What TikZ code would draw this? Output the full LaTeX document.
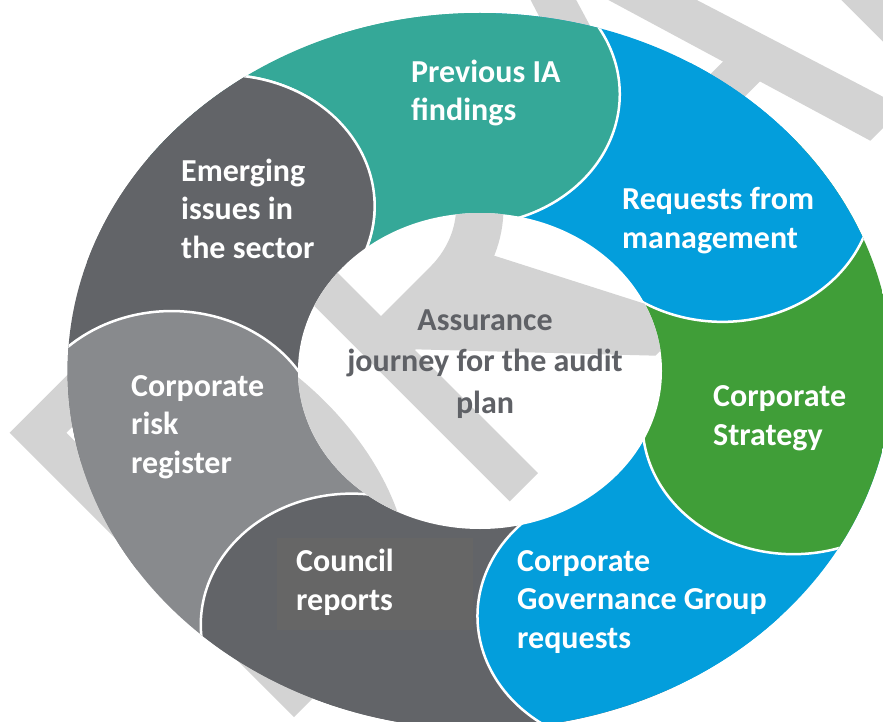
\documentclass[tikz,border=0pt]{standalone}
\usepackage{fontspec}
\setmainfont{Carlito}
\usetikzlibrary{calc}

\definecolor{segteal}{HTML}{35A898}
\definecolor{segblue}{HTML}{039EDC}
\definecolor{seggreen}{HTML}{409E38}
\definecolor{segdark}{HTML}{626468}
\definecolor{segmid}{HTML}{888A8D}
\definecolor{boxgray}{HTML}{666666}
\definecolor{hubtext}{HTML}{5F6166}
\definecolor{wmgray}{HTML}{D3D3D3}

\tikzset{
  seglabel/.style={anchor=base west, inner sep=0pt, align=left, text=white,
    font=\fontsize{32}{38.3}\selectfont\bfseries},
  hublabel/.style={anchor=base, inner sep=0pt, align=center, text=hubtext,
    font=\fontsize{32}{41.5}\selectfont\bfseries},
  sepline/.style={white, line width=2.5pt},
}

% big diagonal DRAFT letters, drawn in letter units (cap height 402)
\newcommand\wmletters{%
  \begin{scope}[shift={(294,-717)}, rotate=45, wmgray]
    % D
    \fill[even odd rule] (0,0) -- (0,402) -- (130,402)
        arc[start angle=90, end angle=-90, x radius=115, y radius=201] -- cycle
      (40,40) -- (130,40)
        arc[start angle=-90, end angle=90, x radius=75, y radius=161] -- (40,362) -- cycle;
    % R
    \fill[even odd rule] (305,0) -- (305,402) -- (415,402)
        arc[start angle=90, end angle=-90, x radius=125, y radius=114] -- (345,174) -- (345,0) -- cycle
      (345,362) -- (415,362)
        arc[start angle=90, end angle=-90, x radius=80, y radius=70] -- (345,222) -- cycle;
    \fill (345,175) -- (465,190) -- (563,0) -- (511,0) -- cycle;
    % A
    \fill (567,0) -- (614,0) -- (735,402) -- (694,402) -- cycle;
    \fill (694,402) -- (735,402) -- (862,0) -- (815,0) -- cycle;
    \fill (640,120) rectangle (782,160);
    % F
    \fill (894,0) rectangle (934,402);
    \fill (894,362) rectangle (1100,402);
    \fill (894,190) rectangle (1060,228);
  \end{scope}}

\begin{document}
\begin{tikzpicture}[x=1pt, y=1pt]
  \useasboundingbox (0,0) rectangle (883,-722);
  \clip (0,0) rectangle (883,-722);

  \wmletters

  \begin{scope}[shift={(480,-371)}, xscale=1.152]
    \clip (0,0) circle (358);
    % wedges
    \foreach \a/\col in {92/segteal, 40.57/segblue, -10.86/seggreen, -62.29/segblue,
                         -113.71/segdark, -165.14/segmid, -216.57/segdark}
      \fill[\col] (0,0) -- (\a+51.43:400) arc[start angle=\a+51.43, end angle=\a, radius=400] -- cycle;
    % bulges, each laps over the next wedge
    \foreach \a/\col in {-216.57/segdark, -165.14/segmid, -113.71/segdark, -62.29/segblue,
                         -10.86/seggreen, 40.57/segblue, 92/segteal} {
      \fill[\col] (\a:277) circle (131);
      \draw[sepline] ($(\a:277)+(\a-58:131)$) arc[start angle=\a-58, end angle=\a-165, radius=131];
    }
    % last bulge again, over the teal wedge
    \begin{scope}
      \clip (0,0) -- (143.43:400) arc[start angle=143.43, end angle=92, radius=400] -- cycle;
      \fill[segdark] (143.43:277) circle (131);
      \draw[sepline] ($(143.43:277)+(85.43:131)$) arc[start angle=85.43, end angle=-21.57, radius=131];
    \end{scope}
  \end{scope}

  \fill[boxgray] (277,-538) rectangle (473,-630);

  % centre hole
  \fill[white] (480,-371) ellipse [x radius=182, y radius=158];
  \begin{scope}
    \clip (480,-371) ellipse [x radius=182, y radius=158];
    \wmletters
  \end{scope}

  \node[seglabel] (prev) at (411,-121) {Previous IA\\findings};
  \node[seglabel] (reqs) at (622,-248) {Requests from\\management};
  \node[seglabel] (strat) at (713,-445) {Corporate\\Strategy};
  \node[seglabel] (cgg) at (517,-648) {Corporate\\Governance Group\\requests};
  \node[seglabel] (council) at (296,-610) {Council\\reports};
  \node[seglabel] (risk) at (131,-473) {Corporate\\risk\\register};
  \node[seglabel] (emerg) at (181,-258) {Emerging\\issues in\\the sector};
  \node[hublabel] (hub) at (485,-413) {Assurance\\journey for the audit\\plan};
\end{tikzpicture}
\end{document}
